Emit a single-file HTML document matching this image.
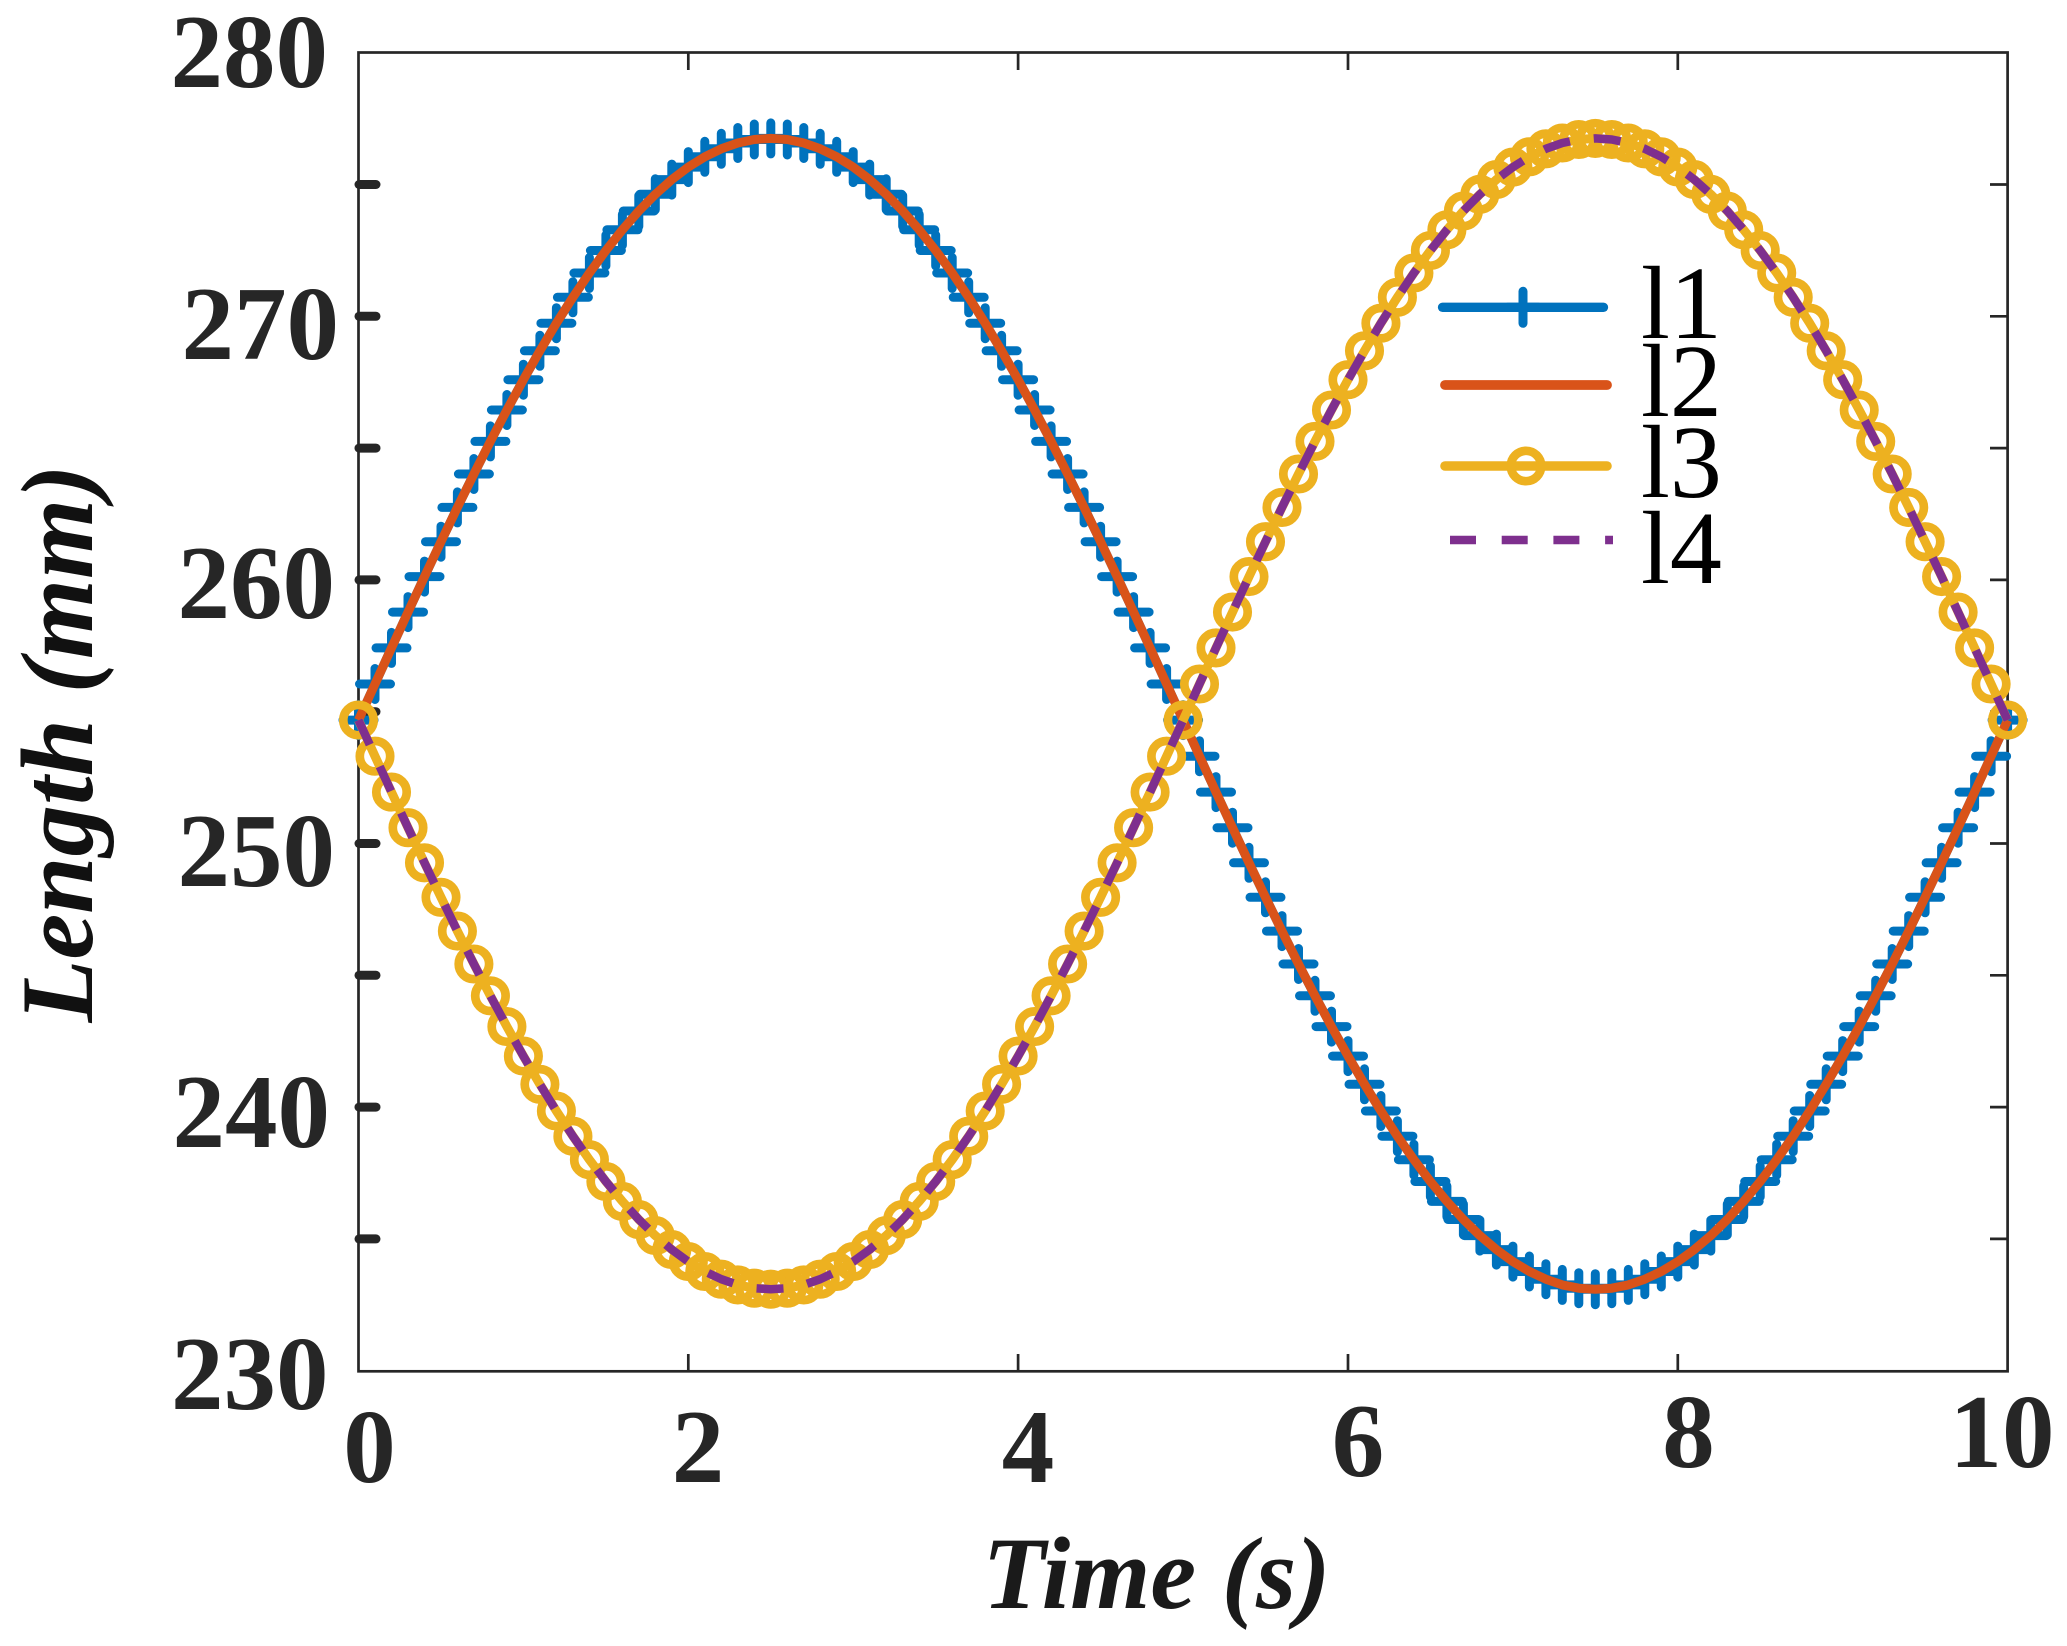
<!DOCTYPE html>
<html>
<head>
<meta charset="utf-8">
<style>
html,body{margin:0;padding:0;background:#fff;}
svg{display:block;}
</style>
</head>
<body>
<svg width="2067" height="1646" viewBox="0 0 2067 1646" xmlns="http://www.w3.org/2000/svg">
<defs>
<marker id="mp" markerUnits="userSpaceOnUse" markerWidth="60" markerHeight="60" refX="30" refY="30" overflow="visible" orient="0">
<path d="M14.5 30H45.5M30 14.5V45.5" stroke="#0072BD" stroke-width="9" stroke-linecap="round" fill="none"/>
</marker>
<marker id="mc" markerUnits="userSpaceOnUse" markerWidth="60" markerHeight="60" refX="30" refY="30" overflow="visible" orient="0">
<circle cx="30" cy="30" r="15.2" fill="none" stroke="#EDB120" stroke-width="8.7"/>
</marker>
</defs>
<rect x="0" y="0" width="2067" height="1646" fill="#fff"/>

<!-- axes box -->
<rect x="358.5" y="52.5" width="1649.1" height="1318.8" fill="none" stroke="#262626" stroke-width="2.7"/>

<!-- left thick ticks -->
<g stroke="#262626" stroke-width="9" stroke-linecap="round">
<line x1="359" y1="184.5" x2="376" y2="184.5"/>
<line x1="359" y1="316.3" x2="376" y2="316.3"/>
<line x1="359" y1="448.1" x2="376" y2="448.1"/>
<line x1="359" y1="579.9" x2="376" y2="579.9"/>
<line x1="359" y1="711.7" x2="376" y2="711.7"/>
<line x1="359" y1="843.5" x2="376" y2="843.5"/>
<line x1="359" y1="975.3" x2="376" y2="975.3"/>
<line x1="359" y1="1107.1" x2="376" y2="1107.1"/>
<line x1="359" y1="1238.9" x2="376" y2="1238.9"/>
</g>
<!-- right ticks -->
<g stroke="#262626" stroke-width="2.7">
<line x1="2007.6" y1="184.5" x2="1990" y2="184.5"/>
<line x1="2007.6" y1="316.3" x2="1990" y2="316.3"/>
<line x1="2007.6" y1="448.1" x2="1990" y2="448.1"/>
<line x1="2007.6" y1="579.9" x2="1990" y2="579.9"/>
<line x1="2007.6" y1="711.7" x2="1990" y2="711.7"/>
<line x1="2007.6" y1="843.5" x2="1990" y2="843.5"/>
<line x1="2007.6" y1="975.3" x2="1990" y2="975.3"/>
<line x1="2007.6" y1="1107.1" x2="1990" y2="1107.1"/>
<line x1="2007.6" y1="1238.9" x2="1990" y2="1238.9"/>
<!-- top ticks -->
<line x1="688.3" y1="52.5" x2="688.3" y2="70"/>
<line x1="1018.1" y1="52.5" x2="1018.1" y2="70"/>
<line x1="1348.0" y1="52.5" x2="1348.0" y2="70"/>
<line x1="1677.8" y1="52.5" x2="1677.8" y2="70"/>
<!-- bottom ticks -->
<line x1="688.3" y1="1371.3" x2="688.3" y2="1354"/>
<line x1="1018.1" y1="1371.3" x2="1018.1" y2="1354"/>
<line x1="1348.0" y1="1371.3" x2="1348.0" y2="1354"/>
<line x1="1677.8" y1="1371.3" x2="1677.8" y2="1354"/>
</g>

<!-- y tick labels -->
<g font-family="'Liberation Serif', 'Times New Roman', serif" font-weight="bold" font-size="105" fill="#262626" text-anchor="end">
<text x="328" y="87">280</text>
<text x="339" y="359">270</text>
<text x="335" y="618">260</text>
<text x="335" y="886">250</text>
<text x="330" y="1147">240</text>
<text x="328.5" y="1409">230</text>
</g>
<!-- x tick labels -->
<g font-family="'Liberation Serif', 'Times New Roman', serif" font-weight="bold" font-size="105" fill="#262626" text-anchor="middle">
<text x="369.5" y="1482">0</text>
<text x="698" y="1482">2</text>
<text x="1028" y="1482">4</text>
<text x="1358" y="1476">6</text>
<text x="1688.5" y="1467">8</text>
<text x="2002" y="1467">10</text>
</g>

<!-- axis labels -->
<text x="1156.5" y="1608" text-anchor="middle" font-family="'Liberation Serif', 'Times New Roman', serif" font-weight="bold" font-style="italic" font-size="103" fill="#1a1a1a">Time (s)</text>
<text transform="translate(92,743.5) rotate(-90)" x="0" y="0" text-anchor="middle" font-family="'Liberation Serif', 'Times New Roman', serif" font-weight="bold" font-style="italic" font-size="103" fill="#111">Length (mm)</text>

<!-- l1 -->
<polyline fill="none" stroke="#0072BD" stroke-width="9" stroke-linejoin="round" marker-start="url(#mp)" marker-mid="url(#mp)" marker-end="url(#mp)" points="358.5,720.1 375.0,684.0 391.5,647.9 408.0,612.1 424.5,576.6 441.0,541.7 457.4,507.4 473.9,474.0 490.4,441.4 506.9,410.0 523.4,379.7 539.9,350.8 556.4,323.2 572.9,297.3 589.4,273.0 605.9,250.5 622.4,229.8 638.8,211.0 655.3,194.3 671.8,179.6 688.3,167.1 704.8,156.8 721.3,148.8 737.8,143.0 754.3,139.5 770.8,138.4 787.3,139.5 803.8,143.0 820.2,148.8 836.7,156.8 853.2,167.1 869.7,179.6 886.2,194.3 902.7,211.0 919.2,229.8 935.7,250.5 952.2,273.0 968.7,297.3 985.2,323.2 1001.6,350.8 1018.1,379.7 1034.6,410.0 1051.1,441.4 1067.6,474.0 1084.1,507.4 1100.6,541.7 1117.1,576.6 1133.6,612.1 1150.1,647.9 1166.6,684.0 1183.1,720.1 1199.5,756.2 1216.0,792.1 1232.5,827.7 1249.0,862.8 1265.5,897.3 1282.0,931.1 1298.5,964.0 1315.0,995.8 1331.5,1026.6 1348.0,1056.1 1364.5,1084.3 1380.9,1111.0 1397.4,1136.2 1413.9,1159.7 1430.4,1181.5 1446.9,1201.4 1463.4,1219.5 1479.9,1235.6 1496.4,1249.6 1512.9,1261.6 1529.4,1271.5 1545.9,1279.2 1562.3,1284.9 1578.8,1288.2 1595.3,1289.2 1611.8,1288.2 1628.3,1284.9 1644.8,1279.2 1661.3,1271.5 1677.8,1261.6 1694.3,1249.6 1710.8,1235.6 1727.3,1219.5 1743.7,1201.4 1760.2,1181.5 1776.7,1159.7 1793.2,1136.2 1809.7,1111.0 1826.2,1084.3 1842.7,1056.1 1859.2,1026.6 1875.7,995.8 1892.2,964.0 1908.7,931.1 1925.1,897.3 1941.6,862.8 1958.1,827.7 1974.6,792.1 1991.1,756.2 2007.6,720.1"/>
<!-- l2 -->
<polyline fill="none" stroke="#D95319" stroke-width="9" stroke-linejoin="round" points="358.5,720.1 375.0,684.0 391.5,647.9 408.0,612.1 424.5,576.6 441.0,541.7 457.4,507.4 473.9,474.0 490.4,441.4 506.9,410.0 523.4,379.7 539.9,350.8 556.4,323.2 572.9,297.3 589.4,273.0 605.9,250.5 622.4,229.8 638.8,211.0 655.3,194.3 671.8,179.6 688.3,167.1 704.8,156.8 721.3,148.8 737.8,143.0 754.3,139.5 770.8,138.4 787.3,139.5 803.8,143.0 820.2,148.8 836.7,156.8 853.2,167.1 869.7,179.6 886.2,194.3 902.7,211.0 919.2,229.8 935.7,250.5 952.2,273.0 968.7,297.3 985.2,323.2 1001.6,350.8 1018.1,379.7 1034.6,410.0 1051.1,441.4 1067.6,474.0 1084.1,507.4 1100.6,541.7 1117.1,576.6 1133.6,612.1 1150.1,647.9 1166.6,684.0 1183.1,720.1 1199.5,756.2 1216.0,792.1 1232.5,827.7 1249.0,862.8 1265.5,897.3 1282.0,931.1 1298.5,964.0 1315.0,995.8 1331.5,1026.6 1348.0,1056.1 1364.5,1084.3 1380.9,1111.0 1397.4,1136.2 1413.9,1159.7 1430.4,1181.5 1446.9,1201.4 1463.4,1219.5 1479.9,1235.6 1496.4,1249.6 1512.9,1261.6 1529.4,1271.5 1545.9,1279.2 1562.3,1284.9 1578.8,1288.2 1595.3,1289.2 1611.8,1288.2 1628.3,1284.9 1644.8,1279.2 1661.3,1271.5 1677.8,1261.6 1694.3,1249.6 1710.8,1235.6 1727.3,1219.5 1743.7,1201.4 1760.2,1181.5 1776.7,1159.7 1793.2,1136.2 1809.7,1111.0 1826.2,1084.3 1842.7,1056.1 1859.2,1026.6 1875.7,995.8 1892.2,964.0 1908.7,931.1 1925.1,897.3 1941.6,862.8 1958.1,827.7 1974.6,792.1 1991.1,756.2 2007.6,720.1"/>
<!-- l3 -->
<polyline fill="none" stroke="#EDB120" stroke-width="9" stroke-linejoin="round" marker-start="url(#mc)" marker-mid="url(#mc)" marker-end="url(#mc)" points="358.5,720.1 375.0,756.2 391.5,792.1 408.0,827.7 424.5,862.8 441.0,897.3 457.4,931.1 473.9,964.0 490.4,995.8 506.9,1026.6 523.4,1056.1 539.9,1084.3 556.4,1111.0 572.9,1136.2 589.4,1159.7 605.9,1181.5 622.4,1201.4 638.8,1219.5 655.3,1235.6 671.8,1249.6 688.3,1261.6 704.8,1271.5 721.3,1279.2 737.8,1284.9 754.3,1288.2 770.8,1289.2 787.3,1288.2 803.8,1284.9 820.2,1279.2 836.7,1271.5 853.2,1261.6 869.7,1249.6 886.2,1235.6 902.7,1219.5 919.2,1201.4 935.7,1181.5 952.2,1159.7 968.7,1136.2 985.2,1111.0 1001.6,1084.3 1018.1,1056.1 1034.6,1026.6 1051.1,995.8 1067.6,964.0 1084.1,931.1 1100.6,897.3 1117.1,862.8 1133.6,827.7 1150.1,792.1 1166.6,756.2 1183.1,720.1 1199.5,684.0 1216.0,647.9 1232.5,612.1 1249.0,576.6 1265.5,541.7 1282.0,507.4 1298.5,474.0 1315.0,441.4 1331.5,410.0 1348.0,379.7 1364.5,350.8 1380.9,323.2 1397.4,297.3 1413.9,273.0 1430.4,250.5 1446.9,229.8 1463.4,211.0 1479.9,194.3 1496.4,179.6 1512.9,167.1 1529.4,156.8 1545.9,148.8 1562.3,143.0 1578.8,139.5 1595.3,138.4 1611.8,139.5 1628.3,143.0 1644.8,148.8 1661.3,156.8 1677.8,167.1 1694.3,179.6 1710.8,194.3 1727.3,211.0 1743.7,229.8 1760.2,250.5 1776.7,273.0 1793.2,297.3 1809.7,323.2 1826.2,350.8 1842.7,379.7 1859.2,410.0 1875.7,441.4 1892.2,474.0 1908.7,507.4 1925.1,541.7 1941.6,576.6 1958.1,612.1 1974.6,647.9 1991.1,684.0 2007.6,720.1"/>
<!-- l4 -->
<polyline fill="none" stroke="#7E2F8E" stroke-width="8.5" stroke-dasharray="27 24" stroke-linejoin="round" points="358.5,720.1 375.0,756.2 391.5,792.1 408.0,827.7 424.5,862.8 441.0,897.3 457.4,931.1 473.9,964.0 490.4,995.8 506.9,1026.6 523.4,1056.1 539.9,1084.3 556.4,1111.0 572.9,1136.2 589.4,1159.7 605.9,1181.5 622.4,1201.4 638.8,1219.5 655.3,1235.6 671.8,1249.6 688.3,1261.6 704.8,1271.5 721.3,1279.2 737.8,1284.9 754.3,1288.2 770.8,1289.2 787.3,1288.2 803.8,1284.9 820.2,1279.2 836.7,1271.5 853.2,1261.6 869.7,1249.6 886.2,1235.6 902.7,1219.5 919.2,1201.4 935.7,1181.5 952.2,1159.7 968.7,1136.2 985.2,1111.0 1001.6,1084.3 1018.1,1056.1 1034.6,1026.6 1051.1,995.8 1067.6,964.0 1084.1,931.1 1100.6,897.3 1117.1,862.8 1133.6,827.7 1150.1,792.1 1166.6,756.2 1183.1,720.1 1199.5,684.0 1216.0,647.9 1232.5,612.1 1249.0,576.6 1265.5,541.7 1282.0,507.4 1298.5,474.0 1315.0,441.4 1331.5,410.0 1348.0,379.7 1364.5,350.8 1380.9,323.2 1397.4,297.3 1413.9,273.0 1430.4,250.5 1446.9,229.8 1463.4,211.0 1479.9,194.3 1496.4,179.6 1512.9,167.1 1529.4,156.8 1545.9,148.8 1562.3,143.0 1578.8,139.5 1595.3,138.4 1611.8,139.5 1628.3,143.0 1644.8,148.8 1661.3,156.8 1677.8,167.1 1694.3,179.6 1710.8,194.3 1727.3,211.0 1743.7,229.8 1760.2,250.5 1776.7,273.0 1793.2,297.3 1809.7,323.2 1826.2,350.8 1842.7,379.7 1859.2,410.0 1875.7,441.4 1892.2,474.0 1908.7,507.4 1925.1,541.7 1941.6,576.6 1958.1,612.1 1974.6,647.9 1991.1,684.0 2007.6,720.1"/>

<!-- legend -->
<g stroke-linecap="round" fill="none">
<line x1="1442.5" y1="307.3" x2="1603.5" y2="307.3" stroke="#0072BD" stroke-width="9.3"/>
<path d="M1507.5 307.3H1538.5M1523 291.3V323.3" stroke="#0072BD" stroke-width="9"/>
<line x1="1445" y1="385" x2="1607" y2="385" stroke="#D95319" stroke-width="9.8"/>
<line x1="1445" y1="466" x2="1607" y2="466" stroke="#EDB120" stroke-width="9.6"/>
<circle cx="1526" cy="466" r="15.2" stroke="#EDB120" stroke-width="8.7"/>
<line x1="1450" y1="540" x2="1613" y2="540" stroke="#7E2F8E" stroke-width="8.5" stroke-dasharray="26 25.7" stroke-linecap="butt"/>
</g>
<g font-family="'Liberation Serif', 'Times New Roman', serif" font-size="104" fill="#000">
<text x="1641" y="338">l1</text>
<text x="1641" y="416">l2</text>
<text x="1641" y="497">l3</text>
<text x="1641" y="583">l4</text>
</g>
</svg>
</body>
</html>
